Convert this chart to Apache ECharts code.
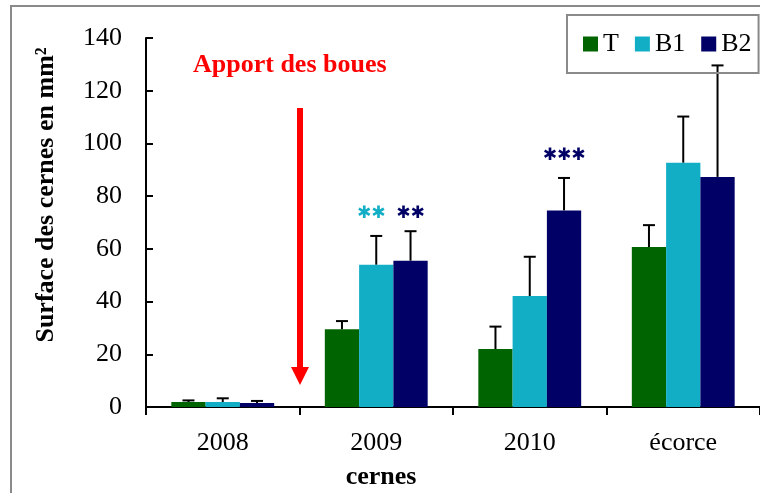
<!DOCTYPE html>
<html>
<head>
<meta charset="utf-8">
<script src="https://cdn.jsdelivr.net/npm/echarts@6/dist/echarts.min.js"></script>
<style>
  html, body { margin: 0; padding: 0; background: #fff; }
  #chart { width: 760px; height: 493px; }
</style>
</head>
<body>
<div id="chart"></div>
<script>
// Ring surface (mm²) by growth ring, for the three treatments
const categories = ['2008', '2009', '2010', 'écorce'];
const seriesNames = ['T', 'B1', 'B2'];
const meanT  = [1.9, 29.5, 22.0, 60.7];
const meanB1 = [1.9, 54.0, 42.1, 92.7];
const meanB2 = [1.5, 55.5, 74.6, 87.3];
// upper error (standard deviation)
const sdT  = [0.6, 3.1, 8.5, 8.3];
const sdB1 = [1.4, 10.9, 14.9, 17.5];
const sdB2 = [0.8, 11.2, 12.3, 42.3];
// significance marks: [category index, series index, y value, text]
const stars = [
  [1, 1, 73.2, '✱✱'],
  [1, 2, 73.2, '✱✱'],
  [2, 2, 95.5, '✱✱✱']
];
const yTicks = { min: 0, max: 140, interval: 20 };

const colors = ['#006400', '#12AEC6', '#000066'];
const serif = '"Liberation Serif", "Times New Roman", serif';
const means = [meanT, meanB1, meanB2];
const sds = [sdT, sdB1, sdB2];
const GAP = 0.33;

// x position of a bar centre inside its category band
function barCenter(api, cat, idx) {
  const c = api.coord([cat, 0]);
  const band = api.size([1, 0])[0];
  const bw = band * (1 - GAP) / 3;
  return { x: c[0] + (idx - 1) * bw, y0: c[1], bw: bw };
}

const errData = [];
means.forEach((arr, s) => arr.forEach((m, c) => errData.push([c, m, m + sds[s][c], s])));

const chart = echarts.init(document.getElementById('chart'), null, { renderer: 'canvas' });

const barSeries = seriesNames.map((name, i) => ({
  name: name,
  type: 'bar',
  data: means[i],
  barGap: '0%',
  barCategoryGap: (GAP * 100) + '%',
  itemStyle: { color: colors[i] },
  z: 2
}));

chart.setOption({
  animation: false,
  color: colors,
  grid: { left: 146, top: 38, width: 616, height: 369, containLabel: false },
  legend: {
    data: seriesNames,
    left: 567, top: 15,
    orient: 'horizontal',
    icon: 'rect',
    itemWidth: 15, itemHeight: 15,
    itemGap: 16,
    padding: [16, 7, 16, 16],
    borderColor: '#8a8a8a', borderWidth: 2,
    textStyle: { fontFamily: serif, fontSize: 26, color: '#000' }
  },
  xAxis: {
    type: 'category',
    data: categories,
    axisLine: { lineStyle: { color: '#000', width: 2 } },
    axisTick: { show: true, inside: false, length: 8, lineStyle: { color: '#000', width: 2 } },
    axisLabel: { fontFamily: serif, fontSize: 26, color: '#000', margin: 23 },
    splitLine: { show: false }
  },
  yAxis: {
    type: 'value',
    min: yTicks.min, max: yTicks.max, interval: yTicks.interval,
    axisLine: { show: true, lineStyle: { color: '#000', width: 2 } },
    axisTick: { show: true, inside: true, length: 7, lineStyle: { color: '#000', width: 2 } },
    axisLabel: { fontFamily: serif, fontSize: 26, color: '#000', margin: 24 },
    splitLine: { show: false }
  },
  series: barSeries.concat([
    {
      type: 'custom',
      name: 'erreurs',
      data: errData,
      z: 3,
      renderItem: function (params, api) {
        const b = barCenter(api, api.value(0), api.value(3));
        const top = api.coord([api.value(0), api.value(2)])[1];
        const base = api.coord([api.value(0), api.value(1)])[1];
        const cap = 6;
        return {
          type: 'group',
          children: [
            { type: 'line', shape: { x1: b.x, y1: base, x2: b.x, y2: top },
              style: { stroke: '#000', lineWidth: 2 } },
            { type: 'line', shape: { x1: b.x - cap, y1: top, x2: b.x + cap, y2: top },
              style: { stroke: '#000', lineWidth: 2 } }
          ]
        };
      }
    },
    {
      type: 'custom',
      name: 'signif',
      data: stars,
      z: 4,
      renderItem: function (params, api) {
        const s = api.value(1);
        const b = barCenter(api, api.value(0), s);
        const y = api.coord([api.value(0), api.value(2)])[1];
        return {
          type: 'text',
          style: {
            x: b.x - (s === 1 ? 5 : 0), y: y,
            text: stars[params.dataIndex][3],
            fill: colors[s],
            font: 'bold 17px "DejaVu Sans"',
            textAlign: 'center', textVerticalAlign: 'middle'
          }
        };
      }
    }
  ]),
  graphic: [
    // outer frame
    { type: 'rect', shape: { x: 11, y: 6, width: 800, height: 520 },
      style: { fill: 'none', stroke: '#8a8a8a', lineWidth: 2 }, silent: true },
    // sludge input annotation
    { type: 'text', left: 193, top: 52,
      style: { text: 'Apport des boues', fill: '#ff0000',
               font: 'bold 26px ' + serif } },
    { type: 'line', shape: { x1: 300, y1: 108, x2: 300, y2: 368 },
      style: { stroke: '#ff0000', lineWidth: 6 } },
    { type: 'polygon', shape: { points: [[291, 367], [309, 367], [300, 385]] },
      style: { fill: '#ff0000' } },
    // axis titles
    { type: 'text', x: 46, y: 195, rotation: Math.PI / 2,
      style: { text: 'Surface des cernes en mm²', fill: '#000',
               font: 'bold 26px ' + serif, textAlign: 'center', textVerticalAlign: 'middle' } },
    { type: 'text', x: 381, y: 477,
      style: { text: 'cernes', fill: '#000',
               font: 'bold 26px ' + serif, textAlign: 'center', textVerticalAlign: 'middle' } }
  ]
});
</script>
</body>
</html>
